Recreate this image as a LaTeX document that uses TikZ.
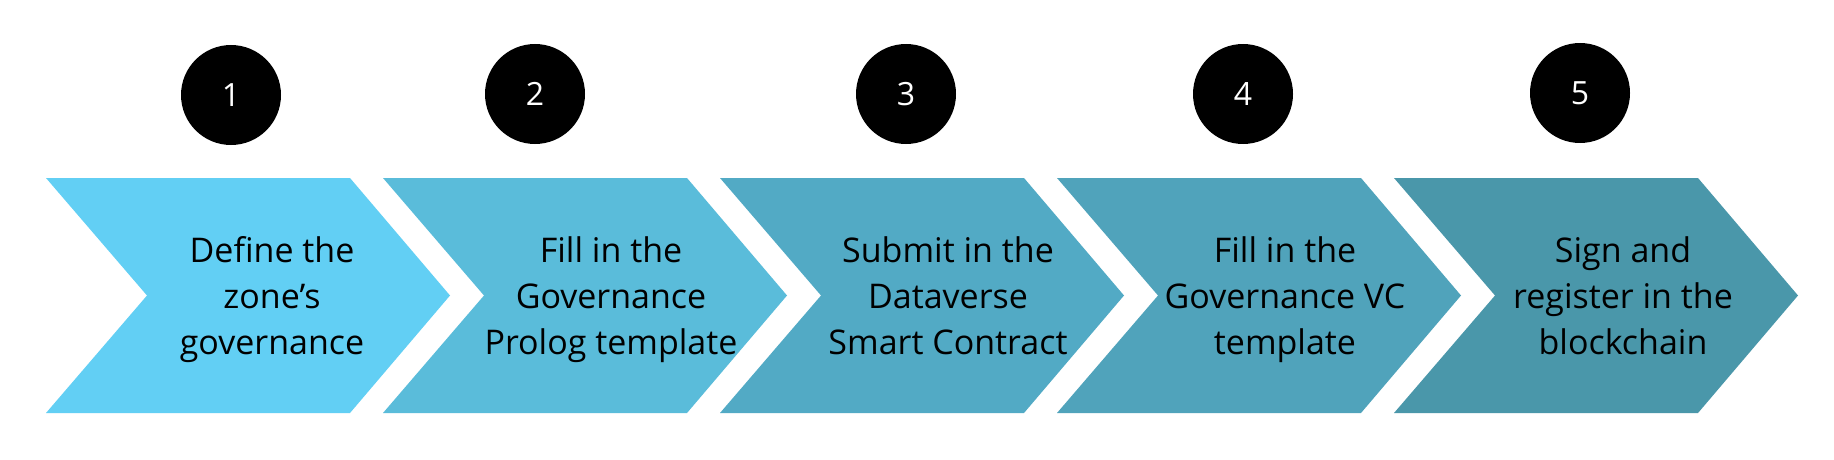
\documentclass[tikz,border=0pt]{standalone}
\usepackage{fontspec}
\setmainfont{Open Sans}
\definecolor{cA}{RGB}{98,207,244}
\definecolor{cB}{RGB}{90,188,218}
\definecolor{cC}{RGB}{82,170,197}
\definecolor{cD}{RGB}{80,163,187}
\definecolor{cE}{RGB}{74,151,170}
\tikzset{
  numdot/.style={circle, minimum size=100pt, fill=black, text=white, inner sep=0pt, font=\fontsize{32}{38}\selectfont},
  steptext/.style={align=center, anchor=base, inner sep=0pt, font=\fontsize{34}{46}\selectfont},
}
\newcommand{\chev}[2]{%
  \fill[#2] (#1,178) -- ++(304,0) -- ++(100,117.5) -- ++(-100,117.5) -- ++(-304,0) -- ++(101,-117.5) -- cycle;}
\begin{document}
\begin{tikzpicture}[x=1pt,y=-1pt]
\useasboundingbox[fill=white] (0,0) rectangle (1834,460);
\chev{46}{cA}
\chev{383}{cB}
\chev{720}{cC}
\chev{1057}{cD}
\chev{1394}{cE}
\node[numdot] (n1) at (231,95) {1};
\node[numdot] (n2) at (535,94) {2};
\node[numdot] (n3) at (906,94) {3};
\node[numdot] (n4) at (1243,94) {4};
\node[numdot] (n5) at (1580,93) {5};
\node[steptext] (t1) at (272,354) {Define the\\zone’s\\governance};
\node[steptext] (t2) at (611,354) {Fill in the\\Governance\\Prolog template};
\node[steptext] (t3) at (948,354) {Submit in the\\Dataverse\\Smart Contract};
\node[steptext] (t4) at (1285,354) {Fill in the\\Governance VC\\template};
\node[steptext] (t5) at (1623,354) {Sign and\\register in the\\blockchain};
\end{tikzpicture}
\end{document}
